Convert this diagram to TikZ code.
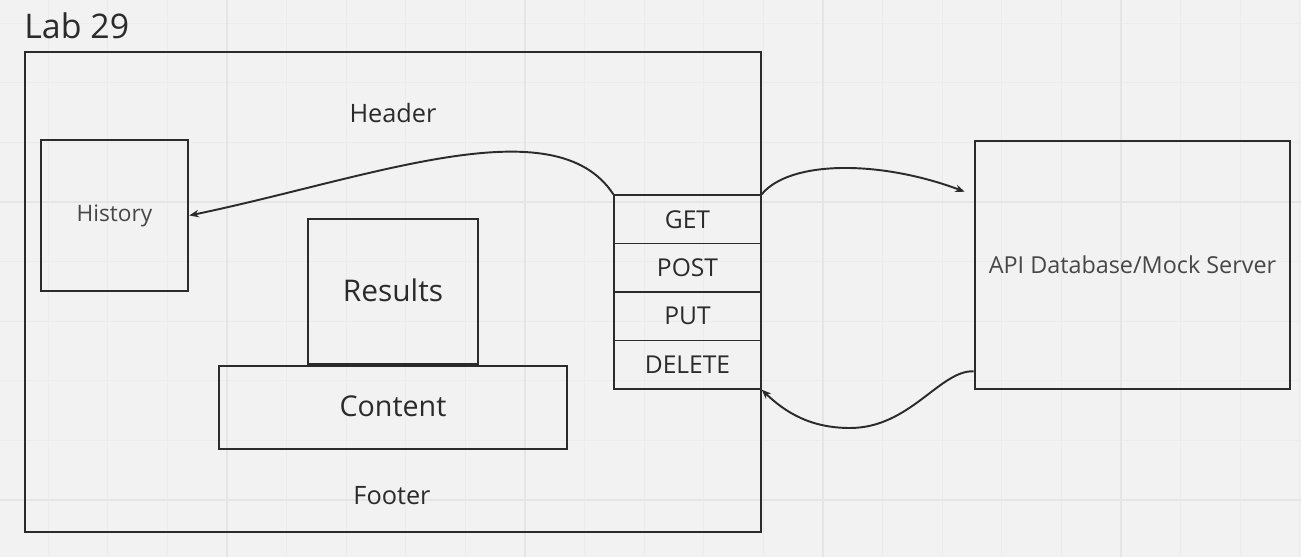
\documentclass[tikz,border=0pt]{standalone}
\usepackage{fontspec}
\setmainfont{Open Sans}
\usetikzlibrary{calc,arrows.meta}
\definecolor{paper}{HTML}{F2F2F2}
\definecolor{gridminor}{HTML}{ECECEC}
\definecolor{gridmajor}{HTML}{E5E5E5}
\definecolor{ink}{HTML}{2B2B2B}
\definecolor{inklight}{HTML}{474747}
\newcommand{\fsz}[1]{\fontsize{#1}{#1}\selectfont}
\tikzset{
  thinbox/.style={draw=ink, line width=0.8pt, inner sep=0pt},
  thickbox/.style={draw=ink, line width=1.5pt, inner sep=0pt},
  method/.style={thinbox, minimum width=2.94cm, minimum height=0.97cm, font=\fsz{14pt}, text=ink},
  flow/.style={draw=ink, line width=1.1pt, -{Stealth[length=1.9mm,width=1.5mm]}},
}

\begin{document}
\begin{tikzpicture}[x=0.02cm, y=-0.02cm]
			%%%%% START %%%%%
			
			\fill[paper] (0,0) rectangle (1301,557);
			\useasboundingbox (0,0) rectangle (1301,557);
			
			\foreach \i in {0,...,21} \draw[gridminor, line width=0.55pt] ({48.2+59.6*\i},0) -- ++(0,557);
			\foreach \i in {0,...,8} \draw[gridminor, line width=0.55pt] (0,{23.2+59.6*\i}) -- ++(1301,0);
			\foreach \i in {0,...,3} \draw[gridmajor, line width=0.6pt] ({227+298*\i},0) -- ++(0,557);
			\foreach \i in {0,1} \draw[gridmajor, line width=0.6pt] (0,{202+298*\i}) -- ++(1301,0);
			
			\node[anchor=base west, inner sep=0pt, text=ink, font=\fsz{19.3pt}] (title) at (24,39) {Lab 29};
			
			\node[thinbox, minimum width=14.72cm, minimum height=9.6cm] (frame) at (393,292) {};
			\node[anchor=base, inner sep=0pt, text=ink, font=\fsz{14.4pt}] (header) at (393,123) {Header};
			\node[anchor=base, inner sep=0pt, text=ink, font=\fsz{14.4pt}] (footer) at (392,504) {Footer};
			
			\node[thickbox, minimum width=2.94cm, minimum height=3.02cm, text=inklight, font=\fsz{12.9pt}] (hist) at (114.5,215.5) {History};
			\node[thickbox, minimum width=3.4cm, minimum height=2.9cm, text=ink, font=\fsz{17pt}] (res) at (393,291.5) {\raisebox{1.2pt}{Results}};
			\node[thickbox, minimum width=6.96cm, minimum height=1.66cm, text=ink, font=\fsz{16.3pt}] (cont) at (393,407.5) {\raisebox{1.2pt}{Content}};
			
			\foreach \m/\name [count=\i] in {GET/get,POST/post,PUT/put,DELETE/del}
				\node[method] (\name) at (687.5,{170.75+48.5*\i}) {\m};
			
			\node[thickbox, minimum width=6.3cm, minimum height=4.96cm, text=inklight, font=\fsz{13.3pt}] (api) at (1132.5,265) {API Database/Mock Server};
			
			\coordinate (apiin) at ($(api.north west)+(-9,52)$);
			\coordinate (apiout) at ($(api.south west)+(0,-19)$);
			
			\draw[flow] (get.north west) .. controls (555,105) and (370,178) .. (hist.east);
			\draw[flow] (get.north east) .. controls (790,160) and (880,160) .. (apiin);
			\draw[flow] (apiout) .. controls (940,370) and (910,428) .. (850,428) .. controls (810,428) and (785,412) .. (del.south east);
			
			%%%%% END %%%%%
		\end{tikzpicture}
\end{document}
